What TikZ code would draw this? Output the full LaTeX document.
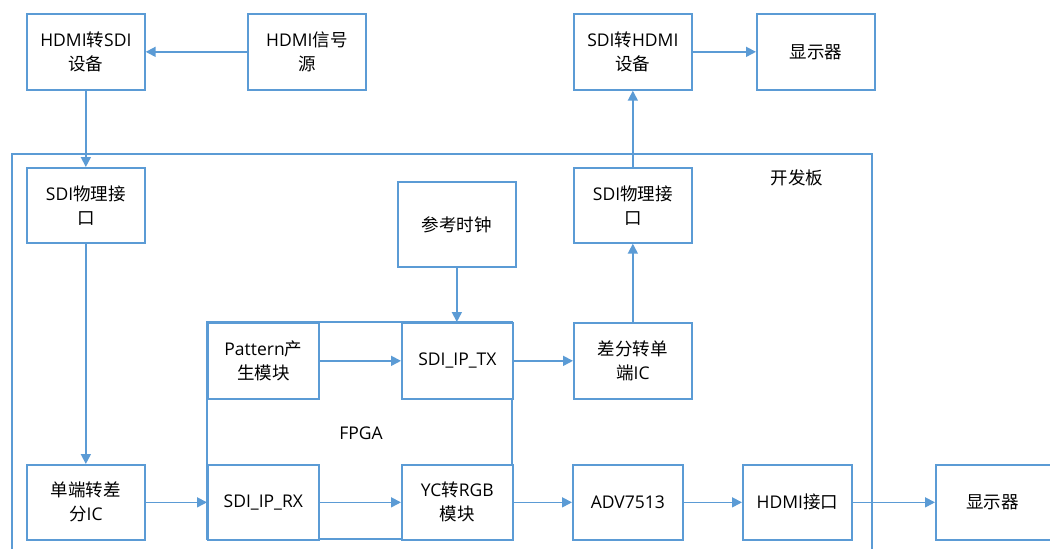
\documentclass[tikz,border=0pt]{standalone}
\usepackage{fontspec}
\setmainfont{Open Sans}
\newfontfamily\cjk{Noto Sans CJK SC}
\newcommand{\zh}[1]{{\cjk #1}}
\usetikzlibrary{arrows.meta}
\definecolor{lineblue}{HTML}{5B9BD5}
\definecolor{txt}{HTML}{000000}
\tikzset{
  blk/.style={draw=lineblue, line width=1.7pt, fill=white, inner sep=0pt, align=center, text=txt, font=\fontsize{17.5}{24}\selectfont},
  conn/.style={draw=lineblue, line width=1.7pt, -{Triangle[length=10pt,width=10pt]}},
  lbl/.style={text=txt, font=\fontsize{17.5}{24}\selectfont, inner sep=0pt}
}
\newcommand{\bx}[6]{% name, x1, y1, x2, y2, text
  \node[blk, minimum width=#4pt-#2pt, minimum height=#5pt-#3pt, anchor=north west] (#1) at (#2pt,-#3pt) {#6};}
\begin{document}
\begin{tikzpicture}[x=1pt,y=1pt]
\useasboundingbox (0,0) rectangle (1050,-549);
\clip (0,0) rectangle (1050,-549);
% board
\draw[draw=lineblue, line width=1.7pt] (12,-154) rectangle (872,-570);
\node[lbl] (board) at (797,-178) {\zh{开发板}};
% FPGA
\draw[draw=lineblue, line width=1.7pt] (207,-322) rectangle (512,-539);
\node[lbl] (fpga) at (361,-433) {FPGA};
% top row
\bx{h2s}{26}{13}{144}{89}{HDMI\zh{转}SDI\\\zh{设备}}
\bx{src}{247}{13}{365}{89}{HDMI\zh{信号}\\\zh{源}}
\bx{s2h}{573}{13}{691}{89}{SDI\zh{转}HDMI\\\zh{设备}}
\bx{disp1}{756}{13}{874}{89}{\zh{显示器}}
% inside board
\bx{phyL}{26}{167}{144}{242}{SDI\zh{物理接}\\\zh{口}}
\bx{phyR}{573}{167}{691}{242}{SDI\zh{物理接}\\\zh{口}}
\bx{clk}{397}{181}{515}{266}{\zh{参考时钟}}
\bx{pat}{207}{322}{318}{398}{Pattern\zh{产}\\\zh{生模块}}
\bx{tx}{401}{322}{512}{398}{SDI\_IP\_TX}
\bx{d2s}{573}{322}{691}{398}{\zh{差分转单}\\\zh{端}IC}
\bx{s2d}{26}{464}{144}{539}{\zh{单端转差}\\\zh{分}IC}
\bx{rx}{207}{464}{318}{539}{SDI\_IP\_RX}
\bx{yc}{401}{464}{512}{539}{YC\zh{转}RGB\\\zh{模块}}
\bx{adv}{572}{464}{682}{539}{ADV7513}
\bx{hdmi}{742}{464}{851}{539}{HDMI\zh{接口}}
\bx{disp2}{935}{464}{1060}{539}{\hspace*{-12pt}\zh{显示器}}
% connectors
\draw[conn] (src.west) -- (h2s.east);
\draw[conn] (h2s.south) -- (phyL.north);
\draw[conn] (phyL.south) -- (s2d.north);
\draw[conn] (s2d.east) -- (rx.west);
\draw[conn] (rx.east) -- (yc.west);
\draw[conn] (yc.east) -- (adv.west);
\draw[conn] (adv.east) -- (hdmi.west);
\draw[conn] (hdmi.east) -- (disp2.west);
\draw[conn] (pat.east) -- (tx.west);
\draw[conn] (clk.south) -- (clk.south |- tx.north);
\draw[conn] (tx.east) -- (d2s.west);
\draw[conn] (d2s.north) -- (phyR.south);
\draw[conn] (phyR.north) -- (s2h.south);
\draw[conn] (s2h.east) -- (disp1.west);
\end{tikzpicture}
\end{document}
